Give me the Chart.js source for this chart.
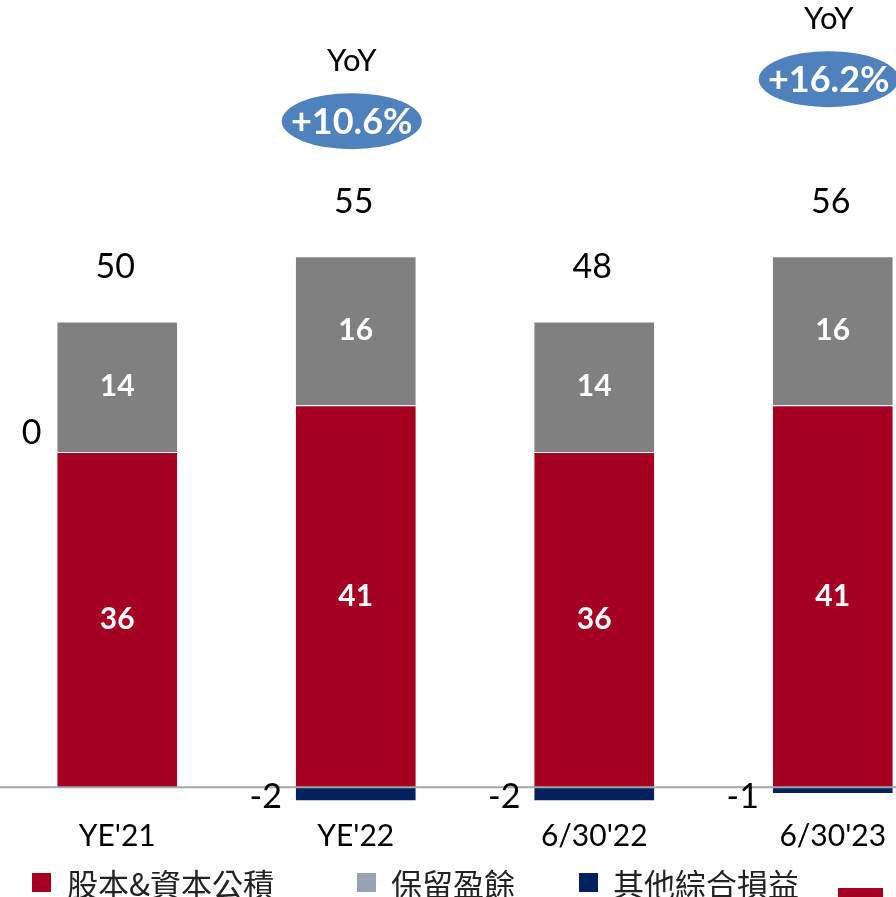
<!DOCTYPE html>
<html>
<head>
<meta charset="utf-8">
<script src="https://cdn.jsdelivr.net/npm/chart.js@4/dist/chart.umd.min.js"></script>
<style>
    html, body { margin: 0; padding: 0; background: #fff; }
    #wrap { position: relative; width: 896px; height: 897px; overflow: hidden; }
    #box { position: absolute; left: -2px; top: 0; width: 954px; height: 866px; }
    .leg { position: absolute; top: 865px; font-family: "Noto Sans CJK TC", sans-serif; font-size: 31px; color: #222; line-height: 36px; white-space: nowrap; }
    .sw { position: absolute; top: 873px; width: 19px; height: 19px; }
</style>
</head>
<body>
<div id="wrap">
    <div id="box"><canvas id="equityChart"></canvas></div>
    <div class="sw" style="left:32px;background:#a50021"></div>
    <div class="leg" style="left:67px">股本&amp;資本公積</div>
    <div class="sw" style="left:357px;background:#97a2b2"></div>
    <div class="leg" style="left:391px">保留盈餘</div>
    <div class="sw" style="left:579px;background:#002060"></div>
    <div class="leg" style="left:613px">其他綜合損益</div>
    <div class="sw" style="left:838px;top:888px;width:45px;height:12px;background:#a50021"></div>
</div>
<script>
const categories = ["YE'21", "YE'22", "6/30'22", "6/30'23"];
const capitalValues = [36, 41, 36, 41];
const retainedValues = [14, 16, 14, 16];
const otherValues = [0, -1.5, -1.5, -0.7];
const otherLabels = ['0', '-2', '-2', '-1'];
const totalLabels = ['50', '55', '48', '56'];
const yoyLabels = [null, '+10.6%', null, '+16.2%'];
const yoyLevels = [null, 71.5, null, 76];

const numFont = 'Lato, "Open Sans", sans-serif';

const labelPlugin = {
    id: 'labelPlugin',
    afterDatasetsDraw(chart) {
        const ctx = chart.ctx;
        const y = chart.scales.y;
        const capMeta = chart.getDatasetMeta(0);
        const retMeta = chart.getDatasetMeta(1);
        const zeroY = y.getPixelForValue(0);

        // zero line
        ctx.save();
        ctx.strokeStyle = '#a6a6a6';
        ctx.lineWidth = 2;
        ctx.beginPath();
        ctx.moveTo(0, zeroY);
        ctx.lineTo(chart.width, zeroY);
        ctx.stroke();

        ctx.textAlign = 'center';
        ctx.textBaseline = 'middle';

        categories.forEach((cat, i) => {
            const capBar = capMeta.data[i];
            const retBar = retMeta.data[i];
            const left = capBar.x - capBar.width / 2;

            // values inside bars
            ctx.fillStyle = '#fff';
            ctx.font = 'bold 30px ' + numFont;
            ctx.fillText(String(capitalValues[i]), capBar.x, (capBar.y + capBar.base) / 2);
            ctx.fillText(String(retainedValues[i]), retBar.x, (retBar.y + retBar.base) / 2);

            // totals
            ctx.fillStyle = '#000';
            ctx.font = '34px ' + numFont;
            ctx.fillText(totalLabels[i], capBar.x - 2, retBar.y - 54);

            // other comprehensive income labels
            ctx.textAlign = 'right';
            if (otherValues[i] === 0) {
                ctx.fillText(otherLabels[i], left - 15, capBar.y - 19);
            } else {
                ctx.fillText(otherLabels[i], left - 13, zeroY + 10);
            }
            ctx.textAlign = 'center';

            // YoY bubbles
            if (yoyLabels[i]) {
                const cy = y.getPixelForValue(yoyLevels[i]);
                const cx = capBar.x - 4;
                ctx.fillStyle = '#4f81bd';
                ctx.beginPath();
                ctx.ellipse(cx, cy, 70, 28, 0, 0, Math.PI * 2);
                ctx.fill();
                ctx.fillStyle = '#fff';
                ctx.font = 'bold 36px ' + numFont;
                ctx.fillText(yoyLabels[i], cx, cy + 1);
                ctx.fillStyle = '#000';
                ctx.font = '31px ' + numFont;
                ctx.fillText('YoY', cx, cy - 60);
            }
        });
        ctx.restore();
    }
};

new Chart(document.getElementById('equityChart'), {
    type: 'bar',
    data: {
        labels: categories,
        datasets: [
            {
                label: '股本&資本公積',
                data: capitalValues,
                backgroundColor: '#a50021',
                borderColor: '#fff',
                borderWidth: 1
            },
            {
                label: '保留盈餘',
                data: retainedValues,
                backgroundColor: '#808080',
                borderColor: '#fff',
                borderWidth: 1
            },
            {
                label: '其他綜合損益',
                data: otherValues,
                backgroundColor: '#002060',
                borderColor: '#fff',
                borderWidth: 1
            }
        ]
    },
    options: {
        responsive: true,
        maintainAspectRatio: false,
        animation: false,
        barPercentage: 0.51,
        categoryPercentage: 1,
        layout: { padding: 0 },
        scales: {
            x: {
                stacked: true,
                grid: { display: false, drawTicks: false },
                border: { display: false },
                ticks: {
                    color: '#000',
                    padding: 12,
                    font: { family: numFont, size: 30 }
                }
            },
            y: {
                stacked: true,
                display: false,
                min: -2,
                max: 84.5
            }
        },
        plugins: {
            legend: { display: false },
            tooltip: { enabled: false }
        }
    },
    plugins: [labelPlugin]
});
</script>
</body>
</html>
